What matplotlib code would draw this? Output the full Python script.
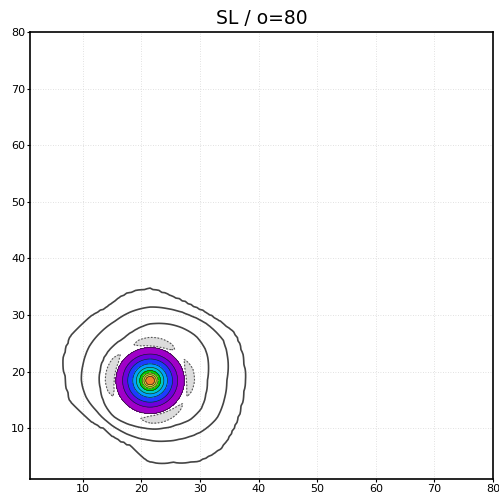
import numpy as np
import matplotlib
matplotlib.use("Agg")
import matplotlib.pyplot as plt

# values
title = "SL / o=80"
xticks = [10, 20, 30, 40, 50, 60, 70, 80]
yticks = [10, 20, 30, 40, 50, 60, 70, 80]
xlim = (1, 80)
ylim = (1, 80)

center = (21.5, 18.4)

# shaded core: level of each ring and the radius where it sits
peak = 10
core_levels = [9, 8, 7, 6, 5, 4, 3, 2, 1]
core_radii = [0.75, 1.04, 1.35, 1.77, 2.34, 2.95, 3.82, 4.69, 5.82]
core_colors = ["#a000c8", "#6e00dc", "#1e3cff", "#00a0ff", "#00c8c8",
               "#00dc00", "#a0e632", "#e6dc32", "#f08228"]

# outer solid contours, radius every 15 degrees
ring_angles = list(range(0, 360, 15))
ring_levels = [0.6, 0.4, 0.2]
ring_inner = [9.7, 10.3, 10.9, 11.1, 10.8, 10.4, 10.0, 9.3, 8.7, 8.7, 8.8, 8.7,
              8.6, 8.6, 8.8, 8.9, 8.6, 8.4, 8.5, 8.7, 9.0, 9.7, 10.0, 9.8]
ring_mid = [13.1, 13.8, 14.4, 14.0, 13.4, 13.1, 13.0, 12.6, 12.1, 12.0, 12.0, 11.8,
            11.75, 11.3, 10.6, 10.3, 10.2, 10.3, 10.5, 11.0, 11.7, 12.6, 13.2, 13.1]
ring_outer = [16.1, 16.3, 16.6, 15.5, 14.9, 15.2, 16.2, 15.8, 14.8, 15.2, 15.6, 15.2,
              14.3, 14.0, 12.6, 11.6, 11.6, 11.9, 14.35, 14.9, 16.4, 17.0, 16.5, 16.1]

# weak negative band (dashed, grey) - depth every 15 degrees
trough_angles = list(range(0, 360, 15))
trough_depth = [1.6, 1.6, 1.1, 0.6, 1.4, 1.7, 1.7, 1.4, 0.7, 0.9, 1.5, 1.7,
                1.7, 1.4, 0.7, 0.5, 0.6, 0.95, 1.5, 1.7, 1.6, 1.3, 0.8, 1.3]
trough_r = [5.0, 6.9, 8.7]
trough_level = -1


def piecewise(r, knots_r, knots_v):
    out = np.full(r.shape, float(knots_v[-1]))
    for k in range(len(knots_v) - 1):
        r0, r1 = knots_r[k], knots_r[k + 1]
        m = (r >= r0) & (r < r1)
        t = (r - r0) / (r1 - r0)
        out = np.where(m, knots_v[k] + t * (knots_v[k + 1] - knots_v[k]), out)
    return out


def make_field(step):
    x = np.arange(xlim[0], xlim[1] + step / 2, step)
    y = np.arange(ylim[0], ylim[1] + step / 2, step)
    X, Y = np.meshgrid(x, y)
    dx = X - center[0]
    dy = Y - center[1]
    R = np.hypot(dx, dy)
    ang = np.degrees(np.arctan2(dy, dx)) % 360
    r_in = np.interp(ang, ring_angles, ring_inner, period=360)
    r_mid = np.interp(ang, ring_angles, ring_mid, period=360)
    r_out = np.interp(ang, ring_angles, ring_outer, period=360)
    knots_r = [0.0] + core_radii + [r_in, r_mid, r_out, 30.0]
    knots_v = [peak] + core_levels + ring_levels + [0.0]
    field = piecewise(R, knots_r, knots_v)
    depth = np.interp(ang, trough_angles, trough_depth, period=360)
    trough = -depth * piecewise(R, [0.0] + trough_r, [0, 0, 1, 0])
    return X, Y, field, trough


X, Y, field, trough = make_field(0.08)
Xc, Yc, field_c, trough_c = make_field(0.5)

fig = plt.figure(figsize=(4.99, 4.96), dpi=100)
ax = fig.add_axes([0.060, 0.0343, 0.928, 0.9007])

for v in xticks[:-1]:
    ax.axvline(v, color="#d8d8d8", lw=0.6, ls=(0, (1, 2)), zorder=0)
for v in yticks[:-1]:
    ax.axhline(v, color="#d8d8d8", lw=0.6, ls=(0, (1, 2)), zorder=0)

# negative band
ax.contourf(X, Y, trough, levels=[-10, trough_level], colors=["#dcdcdc"], zorder=1)
ax.contour(X, Y, trough, levels=[trough_level], colors="#555555",
           linewidths=0.8, linestyles=[(0, (1.5, 1.5))], zorder=2)

# shaded core
fill_levels = sorted(core_levels) + [peak + 1]
ax.contourf(X, Y, field, levels=fill_levels, colors=core_colors, zorder=3)
ax.contour(X, Y, field, levels=sorted(core_levels), colors="#1a1a1a",
           linewidths=0.45, zorder=4)

# outer rings (coarser grid, like the model output)
ax.contour(Xc, Yc, field_c, levels=sorted(ring_levels), colors="#444444",
           linewidths=1.2, zorder=4)

ax.set_xlim(*xlim)
ax.set_ylim(*ylim)
ax.set_xticks(xticks)
ax.set_yticks(yticks)
ax.tick_params(direction="out", length=2.5, width=0.8, labelsize=8, pad=1)
for s in ax.spines.values():
    s.set_linewidth(1.2)
ax.set_title(title, fontsize=13.5, pad=6)

fig.savefig("out.png", dpi=100)
